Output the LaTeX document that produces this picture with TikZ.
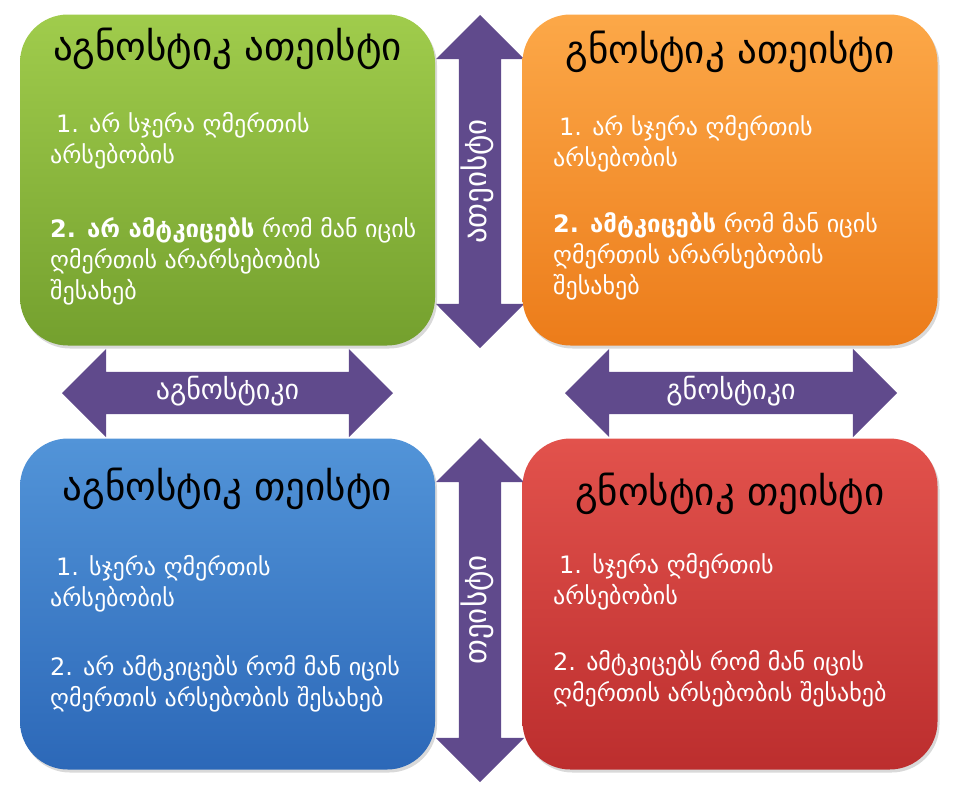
\documentclass[tikz,border=0pt]{standalone}
\usepackage{fontspec}
\setmainfont{DejaVu Sans}
\usetikzlibrary{positioning,shapes.arrows,shadows}

\definecolor{arrowpurple}{RGB}{96,74,140}
\definecolor{greentop}{RGB}{160,204,76}
\definecolor{greenbot}{RGB}{116,160,46}
\definecolor{orangetop}{RGB}{252,168,72}
\definecolor{orangebot}{RGB}{236,124,26}
\definecolor{bluetop}{RGB}{82,148,216}
\definecolor{bluebot}{RGB}{44,104,184}
\definecolor{redtop}{RGB}{226,82,76}
\definecolor{redbot}{RGB}{188,46,46}

\begin{document}
\begin{tikzpicture}
  [x=1pt,y=-1pt,every node/.style={inner sep=0pt},
   box/.style={rectangle,rounded corners=48pt,minimum width=415pt,minimum height=331pt,
     drop shadow={shadow xshift=2pt,shadow yshift=-3pt,opacity=.3}},
   dblarrow/.style={double arrow,double arrow head extend=23pt,fill=arrowpurple,
     text=white,text height=27pt,text depth=15pt,font=\fontsize{28}{32}\selectfont},
   title/.style={anchor=base,font=\fontsize{39}{44}\selectfont},
   body/.style={anchor=base west,align=left,text=white,font=\fontsize{24}{31}\selectfont}]
  \useasboundingbox (0,0) rectangle (960,796);

  % arrows behind the boxes
  \node[dblarrow,minimum height=333pt,rotate=90,font=\fontsize{31}{34}\selectfont] (atheist) at (480,181.5) {ათეისტი};
  \node[dblarrow,minimum height=344pt,rotate=90,font=\fontsize{31}{34}\selectfont] (theist) at (480,610) {თეისტი};
  \node[dblarrow,minimum height=331pt] (agnostic) at (227.5,393) {აგნოსტიკი};
  \node[dblarrow,minimum height=332pt] (gnostic) at (731,393) {გნოსტიკი};

  % boxes
  \node[box,top color=greentop,bottom color=greenbot] (ga) at (227.5,180) {};
  \node[box,top color=orangetop,bottom color=orangebot] (oa) at (730,180) {};
  \node[box,top color=bluetop,bottom color=bluebot] (bt) at (227.5,604) {};
  \node[box,top color=redtop,bottom color=redbot] (rt) at (730,604) {};

  % texts, base = last line
  \node[title] (ga0) at (227.5,60) {აგნოსტიკ ათეისტი};
  \node[body] (ga1) at (50,163) {\hspace{6pt}1. არ სჯერა ღმერთის\\არსებობის};
  \node[body] (ga2) at (50,299) {\textbf{2. არ ამტკიცებს} რომ მან იცის\\ღმერთის არარსებობის\\შესახებ};

  \node[title] (oa0) at (730,63) {გნოსტიკ ათეისტი};
  \node[body] (oa1) at (553,166) {\hspace{6pt}1. არ სჯერა ღმერთის\\არსებობის};
  \node[body] (oa2) at (553,294) {\textbf{2. ამტკიცებს} რომ მან იცის\\ღმერთის არარსებობის\\შესახებ};

  \node[title] (bt0) at (227.5,500) {აგნოსტიკ თეისტი};
  \node[body] (bt1) at (50,606) {\hspace{6pt}1. სჯერა ღმერთის\\არსებობის};
  \node[body] (bt2) at (50,706) {2. არ ამტკიცებს რომ მან იცის\\ღმერთის არსებობის შესახებ};

  \node[title] (rt0) at (730,505) {გნოსტიკ თეისტი};
  \node[body] (rt1) at (553,604) {\hspace{6pt}1. სჯერა ღმერთის\\არსებობის};
  \node[body] (rt2) at (553,701) {2. ამტკიცებს რომ მან იცის\\ღმერთის არსებობის შესახებ};
\end{tikzpicture}
\end{document}
